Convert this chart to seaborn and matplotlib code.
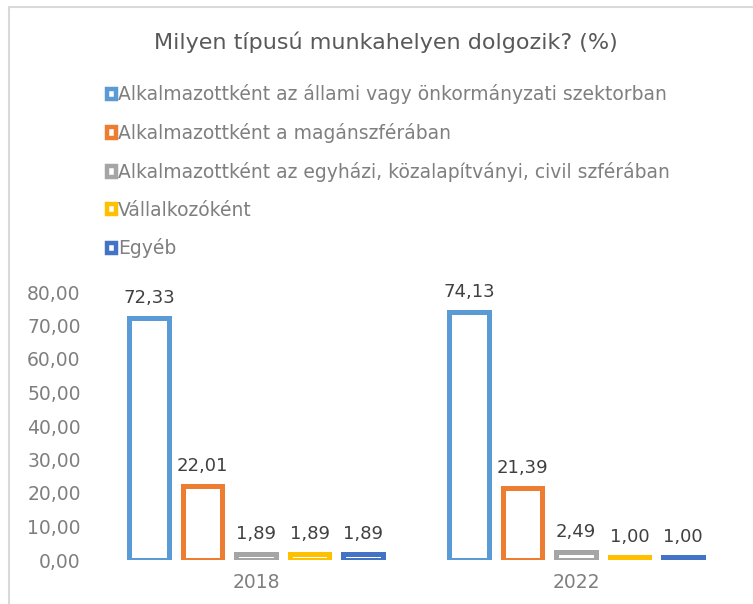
import matplotlib
matplotlib.use('Agg')
import matplotlib.pyplot as plt
import seaborn as sns
import pandas as pd
from matplotlib.patches import Rectangle

# adatok
evek = ['2018', '2022']
kategoriak = ['Alkalmazottként az állami vagy önkormányzati szektorban',
              'Alkalmazottként a magánszférában',
              'Alkalmazottként az egyházi, közalapítványi, civil szférában',
              'Vállalkozóként',
              'Egyéb']
ertekek_2018 = [72.33, 22.01, 1.89, 1.89, 1.89]
ertekek_2022 = [74.13, 21.39, 2.49, 1.00, 1.00]
szinek = ['#5B9BD5', '#ED7D31', '#A5A5A5', '#FFC000', '#4472C4']

df = pd.DataFrame({
    'ev': [evek[0]] * 5 + [evek[1]] * 5,
    'tipus': kategoriak * 2,
    'ertek': ertekek_2018 + ertekek_2022,
})

sns.set_style('white')
plt.rcParams['font.family'] = ['DejaVu Sans']

fig = plt.figure(figsize=(7.53, 6.04), dpi=100)
ax = fig.add_axes([96 / 753, 44 / 604, 640 / 753, 268 / 604])

sns.barplot(data=df, x='ev', y='ertek', hue='tipus', hue_order=kategoriak,
            palette=szinek, width=0.836, gap=0.27, ax=ax, legend=False)

for patch, szin in zip(ax.patches, [c for c in szinek for _ in range(2)]):
    patch.set_facecolor('white')
    patch.set_edgecolor(szin)
    patch.set_linewidth(3.6)

for cont in ax.containers:
    ax.bar_label(cont, labels=[f'{v:.2f}'.replace('.', ',') for v in cont.datavalues],
                 padding=8, fontsize=13, color='#404040', clip_on=False)

ax.set_xlim(-0.5, 1.5)
ax.set_ylim(0, 80)
ax.set_yticks(range(0, 81, 10))
ax.set_yticklabels([f'{v:.2f}'.replace('.', ',') for v in range(0, 81, 10)])
ax.tick_params(axis='both', labelsize=13.5, labelcolor='#7F7F7F', length=0)
ax.tick_params(axis='x', pad=9)
ax.tick_params(axis='y', pad=11)
ax.set_xlabel('')
ax.set_ylabel('')
for s in ax.spines.values():
    s.set_visible(False)

# jelmagyarázat
handles = [Rectangle((0, 0), 1, 1, facecolor='white', edgecolor=c, linewidth=3.2) for c in szinek]
fig.legend(handles, kategoriak, loc='upper left', bbox_to_anchor=(99 / 753, 1 - 77 / 604),
           frameon=False, fontsize=13.5, labelcolor='#7F7F7F', handlelength=0.5,
           handleheight=0.5, handletextpad=0.1, labelspacing=1.0, borderaxespad=0)

fig.text(386 / 753, 1 - 42 / 604, 'Milyen típusú munkahelyen dolgozik? (%)',
         ha='center', va='center', fontsize=16, color='#595959')

# keret
fig.patches.append(Rectangle((8.5 / 753, -0.1), 1.2, 1 - 7 / 604 + 0.1, transform=fig.transFigure,
                             facecolor='none', edgecolor='#D9D9D9', linewidth=1.5))

fig.savefig('out.png', dpi=100)
